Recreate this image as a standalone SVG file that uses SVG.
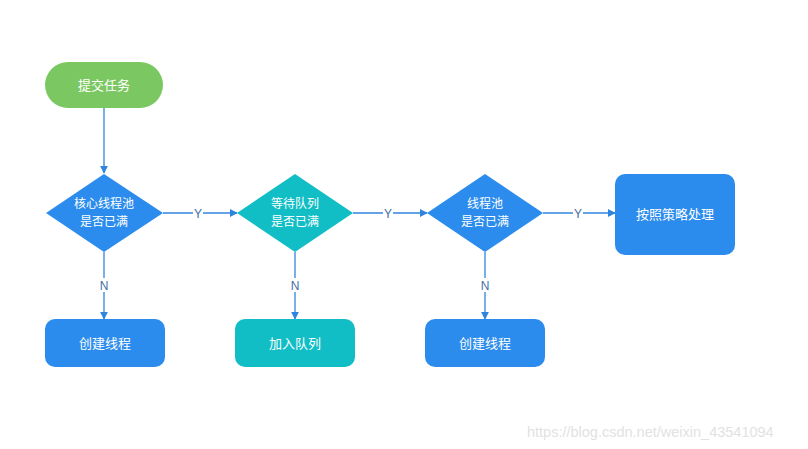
<svg xmlns="http://www.w3.org/2000/svg" width="808" height="449" viewBox="0 0 808 449">
<style>
.t{font-family:"Noto Sans CJK SC","Liberation Sans",sans-serif;font-size:13px;fill:#fff;text-anchor:middle}
.t2{font-family:"Noto Sans CJK SC","Liberation Sans",sans-serif;font-size:12px;fill:#fff;text-anchor:middle}
.lbl{font-family:"Liberation Sans",sans-serif;font-size:12px;fill:#3f6ea6;text-anchor:middle}
.edge{stroke:#2f85de;stroke-width:1.3;fill:none;marker-end:url(#ah)}
.blue{fill:#2b8ced}
.teal{fill:#12bec5}
</style>
<defs>
<marker id="ah" viewBox="0 0 10 10" refX="9" refY="5" markerWidth="8" markerHeight="8" markerUnits="userSpaceOnUse" orient="auto">
<path d="M0,0 L10,5 L0,10 z" fill="#2f85de"/>
</marker>
</defs>
<rect width="808" height="449" fill="#fff"/>
<g id="connectors">
<path class="edge" d="M104,108 V173"/>
<path class="edge" d="M163,213 H237"/>
<path class="edge" d="M353,213 H427"/>
<path class="edge" d="M543,213 H615"/>
<path class="edge" d="M104,252 V319"/>
<path class="edge" d="M295,252 V319"/>
<path class="edge" d="M485,252 V319"/>
<rect x="193" y="206" width="10" height="14" fill="#fff"/>
<rect x="383" y="206" width="10" height="14" fill="#fff"/>
<rect x="573" y="206" width="10" height="14" fill="#fff"/>
<rect x="99" y="278" width="10" height="14" fill="#fff"/>
<rect x="290" y="278" width="10" height="14" fill="#fff"/>
<rect x="480" y="278" width="10" height="14" fill="#fff"/>
<text class="lbl" x="198" y="217.5">Y</text>
<text class="lbl" x="388" y="217.5">Y</text>
<text class="lbl" x="578" y="217.5">Y</text>
<text class="lbl" x="104" y="289.5">N</text>
<text class="lbl" x="295" y="289.5">N</text>
<text class="lbl" x="485" y="289.5">N</text>
</g>
<g id="start">
<rect x="45" y="62" width="118" height="46" rx="23" fill="#7bc862"/>
<text class="t" x="104" y="89.5">提交任务</text>
</g>
<g id="d1">
<polygon class="blue" points="104,174 163,213 104,252 46,213"/>
<text class="t2" x="104" y="208">核心线程池</text>
<text class="t2" x="104" y="226">是否已满</text>
</g>
<g id="d2">
<polygon class="teal" points="295,174 353,213 295,252 237,213"/>
<text class="t2" x="295" y="208">等待队列</text>
<text class="t2" x="295" y="226">是否已满</text>
</g>
<g id="d3">
<polygon class="blue" points="485,174 543,213 485,252 427,213"/>
<text class="t2" x="485" y="208">线程池</text>
<text class="t2" x="485" y="226">是否已满</text>
</g>
<g id="policy">
<rect class="blue" x="615" y="174" width="120" height="81" rx="10"/>
<text class="t" x="675" y="218.5">按照策略处理</text>
</g>
<g id="create1">
<rect class="blue" x="45" y="319" width="120" height="48" rx="10"/>
<text class="t" x="105" y="347.5">创建线程</text>
</g>
<g id="enqueue">
<rect class="teal" x="235" y="319" width="120" height="48" rx="10"/>
<text class="t" x="295" y="347.5">加入队列</text>
</g>
<g id="create2">
<rect class="blue" x="425" y="319" width="120" height="48" rx="10"/>
<text class="t" x="485" y="347.5">创建线程</text>
</g>
<text x="527" y="437" font-family="Liberation Sans, sans-serif" font-size="14.5" fill="#e2e2e2">https://blog.csdn.net/weixin_43541094</text>
</svg>
